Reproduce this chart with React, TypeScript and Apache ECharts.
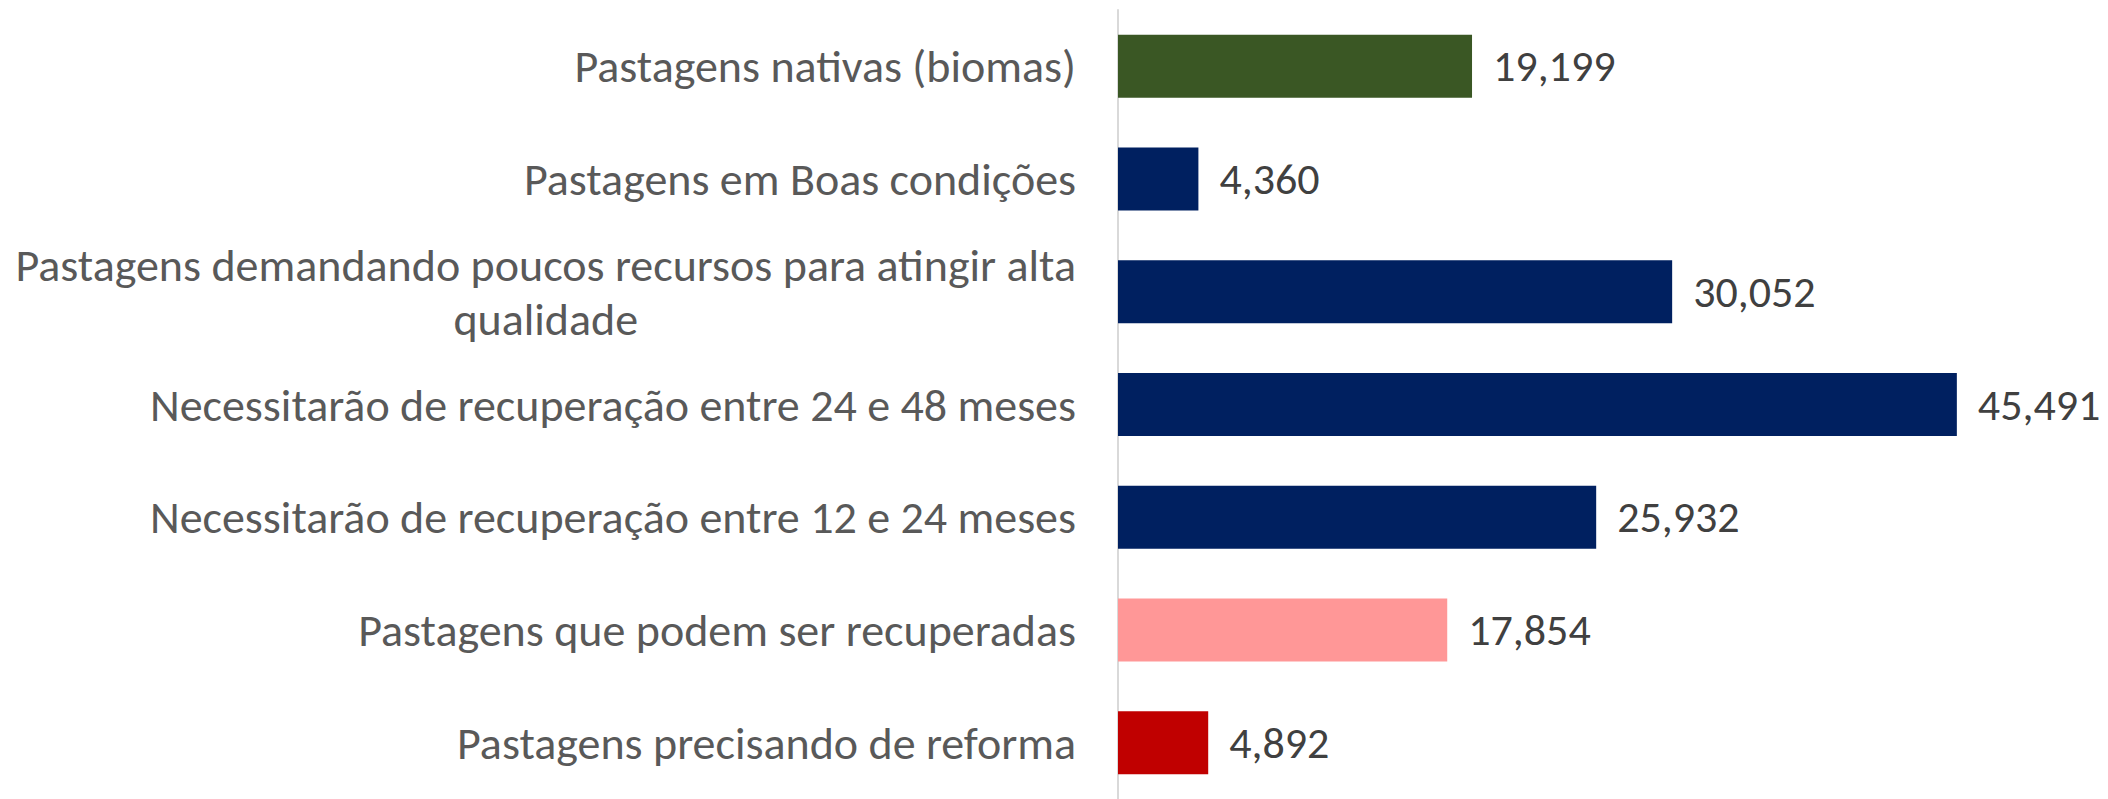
import React, { useEffect, useRef } from "react";
import * as echarts from "echarts";

const categories: string[] = [
  "Pastagens nativas (biomas)",
  "Pastagens em Boas condições",
  "Pastagens demandando poucos recursos para atingir alta\nqualidade",
  "Necessitarão de recuperação entre 24 e 48 meses",
  "Necessitarão de recuperação entre 12 e 24 meses",
  "Pastagens que podem ser recuperadas",
  "Pastagens precisando de reforma",
];

const values: number[] = [19199, 4360, 30052, 45491, 25932, 17854, 4892];

const barColors: string[] = [
  "#3A5724",
  "#002060",
  "#002060",
  "#002060",
  "#002060",
  "#FF9797",
  "#C00000",
];

const FONT = "Carlito, Calibri, Lato, sans-serif";

export default function App() {
  const ref = useRef<HTMLDivElement>(null);

  useEffect(() => {
    if (!ref.current) return;
    const chart = echarts.init(ref.current, undefined, { renderer: "svg" });
    chart.setOption({
      animation: false,
      backgroundColor: "#ffffff",
      grid: { left: 1118, right: 68, top: 10, bottom: -5, containLabel: false },
      xAxis: {
        type: "value",
        min: 0,
        max: 50000,
        show: false,
      },
      yAxis: {
        type: "category",
        inverse: true,
        data: categories,
        axisLine: { show: true, lineStyle: { color: "#D9D9D9", width: 2 } },
        axisTick: { show: false },
        splitLine: { show: false },
        axisLabel: {
          margin: 42,
          align: "right",
          formatter: (v: string) =>
            v
              .split("\n")
              .map((l) => `{c|${l}}`)
              .join("\n"),
          rich: {
            c: {
              align: "center",
              fontSize: 46,
              lineHeight: 54,
              color: "#595959",
              fontFamily: FONT,
            },
          },
        },
      },
      series: [
        {
          type: "bar",
          barWidth: 63,
          data: values.map((v, i) => ({
            value: v,
            itemStyle: { color: barColors[i] },
          })),
          label: {
            show: true,
            position: "right",
            distance: 21,
            fontSize: 44,
            color: "#404040",
            fontFamily: FONT,
            formatter: (p: any) => Number(p.value).toLocaleString("en-US"),
          },
        },
      ],
    });
    return () => chart.dispose();
  }, []);

  return (
    <div
      ref={ref}
      style={{ position: "fixed", left: 0, top: 0, width: 2108, height: 799 }}
    />
  );
}
